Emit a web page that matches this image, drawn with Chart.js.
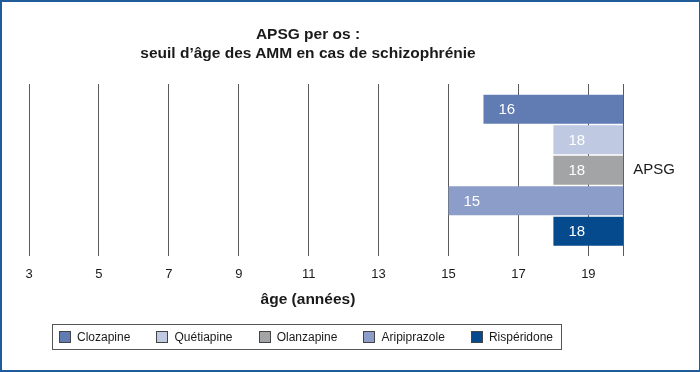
<!DOCTYPE html>
<html>
<head>
<meta charset="utf-8">
<script src="https://cdn.jsdelivr.net/npm/chart.js@4"></script>
<style>
  body { margin: 0; background: #fff; }
  #frame {
    position: relative; width: 700px; height: 372px;
    box-sizing: border-box; border: 2px solid #1f5c99; border-right-width: 1px;
    overflow: hidden; font-family: "Liberation Sans", Arial, sans-serif; color: #1a1a1a;
  }
  #chart { position: absolute; left: -2px; top: -2px; }
  .heading {
    position: absolute; left: -2px; width: 616px; text-align: center;
    font-weight: bold; font-size: 15.5px; line-height: 19px;
  }
  #title { top: 21.5px; }
  #axisTitle { top: 286.5px; }
  #legend {
    position: absolute; left: 50px; top: 322px; width: 510px; height: 26px;
    box-sizing: border-box; border: 1px solid #555;
    display: flex; align-items: center; justify-content: space-between;
    padding: 0 8px 0 6px; font-size: 12px;
  }
  #legend span.item { display: flex; align-items: center; }
  #legend span.box {
    width: 10px; height: 10px; border: 1px solid #444; margin-right: 6px; display: inline-block;
  }
</style>
</head>
<body>
<div id="frame">
  <canvas id="chart" width="700" height="372"></canvas>
  <div id="title" class="heading">APSG per os :<br>seuil d’âge des AMM en cas de schizophrénie</div>
  <div id="axisTitle" class="heading">âge (années)</div>
  <div id="legend"></div>
</div>
<script>
// one bar per drug, going from the minimum age up to the end of the scale
const categories = ["APSG"]
const drugs = ["Clozapine", "Quétiapine", "Olanzapine", "Aripiprazole", "Rispéridone"]
const minAges = [16, 18, 18, 15, 18]
const barEnds = [20, 20, 20, 20, 20]
const ageTicks = [3, 5, 7, 9, 11, 13, 15, 17, 19]
const ageMin = 3
const ageMax = 20

const colors = ["#607cb2", "#c0c9e2", "#a3a4a6", "#8b9dc8", "#044a8d"]
            // clozapine  quetiapine olanzapine aripiprazole risperidone

const datasets = drugs.map((name, i) => ({
    label: name,
    data: [[minAges[i], barEnds[i]]],
    backgroundColor: colors[i],
    borderWidth: 0
}))

// white age written at the left end of each bar
const barLabels = {
    id: "barLabels",
    afterDatasetsDraw(chart) {
        const ctx = chart.ctx
        ctx.save()
        ctx.fillStyle = "#fff"
        ctx.font = "15px 'Liberation Sans', Arial, sans-serif"
        ctx.textBaseline = "middle"
        chart.data.datasets.forEach((ds, i) => {
            chart.getDatasetMeta(i).data.forEach(bar => {
                const left = Math.min(bar.x, bar.base)
                ctx.fillText(String(minAges[i]), left + 15, bar.y + 1)
            })
        })
        ctx.restore()
    }
}

const chart = new Chart(document.getElementById("chart").getContext("2d"), {
    type: "bar",
    data: { labels: categories, datasets: datasets },
    options: {
        indexAxis: "y",
        responsive: false,
        animation: false,
        categoryPercentage: 0.885,
        barPercentage: 0.95,
        layout: { padding: { left: 29, right: 15, top: 84, bottom: 80 } },
        plugins: { legend: { display: false }, tooltip: { enabled: false } },
        scales: {
            x: {
                type: "linear",
                min: ageMin,
                max: ageMax,
                afterBuildTicks: scale => {
                    scale.ticks = ageTicks.concat([ageMax]).map(v => ({ value: v }))
                },
                grid: { color: "#5a5a5a", lineWidth: 1, drawTicks: false },
                border: { display: false },
                ticks: {
                    padding: 10,
                    color: "#1a1a1a",
                    font: { family: "'Liberation Sans', Arial, sans-serif", size: 13 },
                    callback: v => ageTicks.includes(v) ? v : ""
                }
            },
            y: {
                position: "right",
                grid: { display: false, drawTicks: false },
                border: { display: false },
                ticks: {
                    padding: 10,
                    color: "#1a1a1a",
                    font: { family: "'Liberation Sans', Arial, sans-serif", size: 15 }
                }
            }
        }
    },
    plugins: [barLabels]
})

// legend drawn as html so it can have the framed box
const legendBox = document.getElementById("legend")
chart.data.datasets.forEach(ds => {
    const item = document.createElement("span")
    item.className = "item"
    const swatch = document.createElement("span")
    swatch.className = "box"
    swatch.style.background = ds.backgroundColor
    item.appendChild(swatch)
    item.appendChild(document.createTextNode(ds.label))
    legendBox.appendChild(item)
})
</script>
</body>
</html>
